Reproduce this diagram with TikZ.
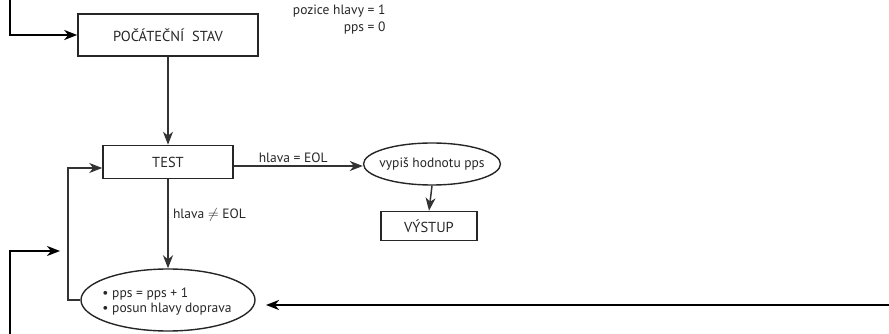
\documentclass[tikz,border=0pt]{standalone}
\usepackage{fontspec}
\setmainfont{PT Sans}
\usetikzlibrary{arrows.meta,shapes.geometric,calc}
\begin{document}
\begin{tikzpicture}[x=1pt,y=-1pt,
  every node/.style={font=\fontsize{13.5}{15}\selectfont, text=black!85},
  boxnode/.style={draw=black!85, line width=1.6pt, minimum height=33pt, inner sep=0pt, font=\fontsize{14.5}{16}\selectfont},
  ellnode/.style={draw=black!85, line width=1.4pt, ellipse, inner sep=0pt},
  conn/.style={draw=black!80, line width=1.5pt, -{Stealth[length=13pt,width=10pt,inset=4pt]}},
  thick loop/.style={draw=black, line width=2.6pt, -{Stealth[length=13pt,width=10pt,inset=4pt]}},
  lbl/.style={font=\fontsize{13.5}{15}\selectfont}
]
\useasboundingbox (0,0) rectangle (889,334);

\node[boxnode, minimum width=180pt, minimum height=42pt] (start) at (168,35) {POČÁTEČNÍ\ \ STAV};
\node[anchor=east, lbl] (init1) at (389,11) {pozice hlavy = 1};
\node[anchor=east, lbl] (init2) at (389,28) {pps = 0};

\node[boxnode, minimum width=130pt, minimum height=33pt] (test) at (168,162) {TEST};
\node[ellnode, minimum width=137pt, minimum height=42pt] (print) at (432,164) {};
\node (printtext) at (print.center) {vypiš hodnotu pps};
\node[boxnode, minimum width=96pt, minimum height=29pt] (out) at (429,226) {VÝSTUP};
\node[ellnode, minimum width=174pt, minimum height=62pt] (inc) at (168,300) {};
\node[align=left] (inctext) at ($(inc.center)+(-1,2)$) {• pps = pps + 1\\[0pt] • posun hlavy doprava};

\coordinate (tl0) at (10,0);
\coordinate (tl1) at (10,35);
\coordinate (ml0) at (10,334);
\coordinate (ml1) at (10,251);
\coordinate (ml2) at (60,251);
\coordinate (r0) at (889,305);
\coordinate (r1) at (266,305);
\coordinate (lp) at (68,300);

\draw[thick loop] (tl0) -- (tl1) -- (start.west);
\draw[thick loop] (ml0) -- (ml1) -- (ml2);
\draw[thick loop] (r0) -- (r1);

\draw[conn] (start.south) -- (test.north);
\draw[conn] ($(test.east)+(0,4)$) -- node[above, lbl, pos=0.46, yshift=-1pt] (eq) {hlava = EOL} ($(print.west)+(0,2)$);
\draw[conn] (test.south) -- node[right, lbl, pos=0.4, xshift=1pt] (neq) {hlava $\neq$ EOL} (inc.north);
\draw[conn] (print.south) -- (out.north);
\draw[conn] (inc.west) -- (lp) |- ($(test.west)+(0,6)$);
\end{tikzpicture}
\end{document}
